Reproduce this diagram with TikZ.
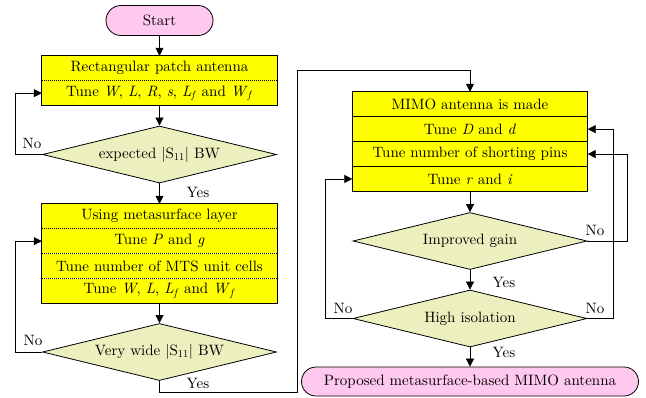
\documentclass[tikz,border=0pt]{standalone}
\usepackage{fontspec}
\setmainfont{lmroman10-regular.otf}[ItalicFont=lmroman10-italic.otf]
\usepackage{tikz}
\usetikzlibrary{positioning,arrows.meta,shapes.geometric,shapes.misc}
\definecolor{rowyellow}{RGB}{255,255,0}
\definecolor{decgreen}{RGB}{236,240,190}
\definecolor{termpink}{RGB}{255,200,238}

\begin{document}
\begin{tikzpicture}[
    x=1pt, y=-1pt,
    every node/.style={font=\fontsize{15}{18}\selectfont},
    row/.style={fill=rowyellow, minimum width=235pt, minimum height=24.5pt, inner sep=0pt},
    boxline/.style={draw=black, line width=0.9pt},
    divider/.style={black, line width=0.9pt, dash pattern=on 1.2pt off 0.8pt},
    decision/.style={diamond, draw, fill=decgreen, line width=0.8pt, aspect=4, inner sep=0pt, minimum width=234pt, minimum height=57pt},
    term/.style={rounded rectangle, draw, fill=termpink, line width=0.8pt, inner sep=0pt, minimum height=30pt},
    arr/.style={-{Triangle[length=8pt,width=8pt]}, line width=0.7pt},
    lbl/.style={inner sep=0pt}
  ]
    \useasboundingbox (0,0) rectangle (646,397);

    % left column: single patch
    \node[term, minimum width=107pt] (start) at (159.5,20.5) {Start};

    \node[row] (r11) at (159.5,68.25) {Rectangular patch antenna};
    \node[row, below=0pt of r11] (r12) {Tune \textit{W}, \textit{L}, \textit{R}, \textit{s}, \textit{L}\textsubscript{\textit{f}} and \textit{W}\textsubscript{\textit{f}}};
    \draw[boxline] (r11.north west) rectangle (r12.south east);
    \draw[divider] (r11.south west) -- (r11.south east);

    \node[decision] (d1) at (159.5,154.5) {expected |S\textsubscript{11}| BW};

    \node[row] (r21) at (159.5,216.25) {Using metasurface layer};
    \node[row, below=0pt of r21] (r22) {Tune \textit{P} and \textit{g}};
    \node[row, below=0pt of r22] (r23) {Tune number of MTS unit cells};
    \node[row, below=0pt of r23] (r24) {Tune \textit{W}, \textit{L}, \textit{L}\textsubscript{\textit{f}} and \textit{W}\textsubscript{\textit{f}}};
    \draw[boxline] (r21.north west) rectangle (r24.south east);
    \foreach \r in {r21,r22,r23}
      \draw[divider] (\r.south west) -- (\r.south east);

    \node[decision] (d2) at (159.5,352) {Very wide |S\textsubscript{11}| BW};

    % right column: MIMO
    \node[row] (r31) at (470,104.25) {MIMO antenna is made};
    \node[row, below=0pt of r31] (r32) {Tune \textit{D} and \textit{d}};
    \node[row, below=0pt of r32] (r33) {Tune number of shorting pins};
    \node[row, below=0pt of r33] (r34) {Tune \textit{r} and \textit{i}};
    \draw[boxline] (r31.north west) rectangle (r34.south east);
    \foreach \r in {r31,r32,r33}
      \draw[divider] (\r.south west) -- (\r.south east);

    \node[decision] (d3) at (470,241) {Improved gain};
    \node[decision] (d4) at (470,318.5) {High isolation};

    \node[term, minimum width=337pt, minimum height=29pt] (finish) at (470,381.5) {Proposed metasurface-based MIMO antenna};

    % connectors
    \draw[arr] (start) -- (r11);
    \draw[arr] (r12) -- (d1);
    \draw[arr] (d1) -- (r21);
    \draw[arr] (d1.west) -- ++(-27,0) |- (r12.west);
    \draw[arr] (r24) -- (d2);
    \draw[arr] (d2.west) -- ++(-27,0) |- (r22.west);

    \coordinate (yeslow) at (297,392);
    \coordinate (yeshigh) at (297,70);
    \draw[arr] (d2.south) |- (yeslow) -- (yeshigh) -| (r31.north);

    \draw[arr] (r34) -- (d3);
    \draw[arr] (d3.east) -- ++(40,0) |- (r33.east);
    \draw[arr] (d3) -- (d4);
    \draw[arr] (d4.east) -- ++(26,0) |- (r32.east);
    \draw[arr] (d4.west) -- ++(-27,0) |- (r34.west);
    \draw[arr] (d4) -- (finish);

    % labels
    \node[lbl] (no1) at (32,143) {No};
    \node[lbl] (yes1) at (198,192) {Yes};
    \node[lbl] (no2) at (33,340) {No};
    \node[lbl] (yes2) at (198,383) {Yes};
    \node[lbl] (no3) at (595,230.5) {No};
    \node[lbl] (yes3) at (504,282) {Yes};
    \node[lbl] (no4) at (595,308) {No};
    \node[lbl] (no5) at (343,308) {No};
    \node[lbl] (yes4) at (504,352.5) {Yes};
  \end{tikzpicture}
\end{document}
